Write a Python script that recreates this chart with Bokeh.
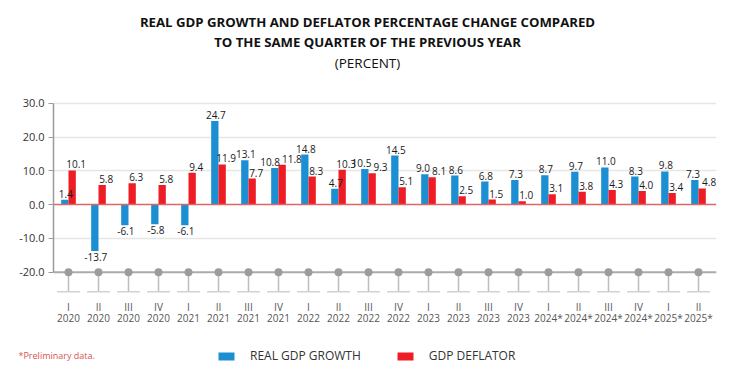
import numpy as np
from bokeh.plotting import figure
from bokeh.layouts import column, row
from bokeh.models import (Range1d, FixedTicker, NumeralTickFormatter, Label, LabelSet,
                          ColumnDataSource, Legend, LegendItem)
from bokeh.core.properties import value
from bokeh.embed import file_html
from bokeh.resources import INLINE

# ---------------- data ----------------
quarters = ["I", "II", "III", "IV", "I", "II", "III", "IV", "I", "II", "III", "IV",
            "I", "II", "III", "IV", "I", "II", "III", "IV", "I", "II"]
years = ["2020", "2020", "2020", "2020", "2021", "2021", "2021", "2021",
         "2022", "2022", "2022", "2022", "2023", "2023", "2023", "2023",
         "2024*", "2024*", "2024*", "2024*", "2025*", "2025*"]
real_gdp_growth = [1.4, -13.7, -6.1, -5.8, -6.1, 24.7, 13.1, 10.8, 14.8, 4.7, 10.5, 14.5,
                   9.0, 8.6, 6.8, 7.3, 8.7, 9.7, 11.0, 8.3, 9.8, 7.3]
gdp_deflator = [10.1, 5.8, 6.3, 5.8, 9.4, 11.9, 7.7, 11.8, 8.3, 10.3, 9.3, 5.1,
                8.1, 2.5, 1.5, 1.0, 3.1, 3.8, 4.3, 4.0, 3.4, 4.8]
y_ticks = [-20, -10, 0, 10, 20, 30]
series_names = ["REAL GDP GROWTH", "GDP DEFLATOR"]
title_lines = ["REAL GDP GROWTH AND DEFLATOR PERCENTAGE CHANGE COMPARED",
               "TO THE SAME QUARTER OF THE PREVIOUS YEAR",
               "(PERCENT)"]
footnote = "*Preliminary data."

# ---------------- style ----------------
FONT = "Open Sans"
BLUE = "#1b8fd2"
RED = "#ee1d25"
BAR_W = 0.244
OFF = 0.122
PX_PER_UNIT = 3.38
W = 734
FRAME_L, FRAME_R = 53, 18
FRAME_H = 293
MAIN_H = 338
FOOT_H = 372 - MAIN_H

n = len(quarters)
idx = np.arange(n)
floor = min(y_ticks)
top = max(y_ticks)
y_lo = floor - 6.3
y_hi = y_lo + FRAME_H / PX_PER_UNIT
x_lo, x_hi = -0.5, n - 0.4
PX_PER_X = (W - FRAME_L - FRAME_R) / (x_hi - x_lo)

p = figure(width=W, height=MAIN_H, output_backend="svg", toolbar_location=None,
           x_range=Range1d(x_lo, x_hi), y_range=Range1d(y_lo, y_hi),
           min_border_left=FRAME_L, min_border_right=FRAME_R, min_border_top=0,
           min_border_bottom=MAIN_H - FRAME_H)
p.outline_line_color = None
p.background_fill_color = "white"
p.border_fill_color = "white"
p.xgrid.visible = False
p.ygrid.ticker = FixedTicker(ticks=[t for t in y_ticks if t not in (0, floor)])
p.ygrid.grid_line_color = "#e6e6e6"
p.ygrid.grid_line_width = 1.5

# floor decoration (axis baseline with dots and stems)
p.segment(x0=[x_lo], y0=[floor], x1=[x_hi], y1=[floor],
          line_color="#ababab", line_width=2)
stem_end = floor - 5.8
p.segment(x0=idx, y0=[floor] * n, x1=idx, y1=[stem_end] * n,
          line_color="#bdbdbd", line_width=1.5)
p.segment(x0=idx - 0.38, y0=[stem_end] * n, x1=idx + 0.38, y1=[stem_end] * n,
          line_color="#d2d2d2", line_width=1.5)
p.scatter(x=idx, y=[floor] * n, size=8, fill_color="#9c9c9c", line_color=None)

src = ColumnDataSource(dict(xb=idx - OFF, xr=idx + OFF,
                            gdp=real_gdp_growth, defl=gdp_deflator))
p.vbar(x="xb", top="gdp", bottom=0, width=BAR_W, source=src,
       fill_color=BLUE, line_color=None)
p.vbar(x="xr", top="defl", bottom=0, width=BAR_W, source=src,
       fill_color=RED, line_color=None)

p.segment(x0=[x_lo], y0=[0], x1=[x_hi], y1=[0], line_color="#e06666", line_width=1.5)


# data labels (nudged apart when the two labels of a quarter would collide)
def text_w(t):
    return 5.72 * sum(c.isdigit() for c in t) + 2.7 + (3.3 if t.startswith("-") else 0)


lx, ly, lt, neg = [], [], [], []
for i in range(n):
    vb, vr = real_gdp_growth[i], gdp_deflator[i]
    tb, tr = f"{vb:.1f}", f"{vr:.1f}"
    db, dr = 1.0, 4.0
    if abs(vb - vr) < 3.5 and (vb >= 0) == (vr >= 0):
        sep = 2 * OFF * PX_PER_X + (dr - db)
        need = (text_w(tb) + text_w(tr)) / 2 + 2
        if need > sep:
            extra = need - sep
            db -= extra / 2
            dr += extra / 2
    for xv, v, t, d in ((i - OFF, vb, tb, db), (i + OFF, vr, tr, dr)):
        lx.append(xv + d / PX_PER_X)
        ly.append(v)
        lt.append(t)
        neg.append(v < 0)
lx, ly, lt, neg = map(np.array, (lx, ly, lt, neg))
pos_src = ColumnDataSource(dict(x=lx[~neg], y=ly[~neg], t=lt[~neg]))
neg_src = ColumnDataSource(dict(x=lx[neg], y=ly[neg], t=lt[neg]))
p.add_layout(LabelSet(x="x", y="y", text="t", source=pos_src, y_offset=2,
                      text_align="center", text_baseline="bottom",
                      text_font=value(FONT), text_font_size=value("10px"),
                      text_color="#1a1a1a"))
p.add_layout(LabelSet(x="x", y="y", text="t", source=neg_src, y_offset=-2,
                      text_align="center", text_baseline="top",
                      text_font=value(FONT), text_font_size=value("10px"),
                      text_color="#1a1a1a"))

# axes
p.xaxis.ticker = FixedTicker(ticks=[int(i) for i in idx])
p.xaxis.major_label_overrides = {int(i): f"{quarters[i]}\n{years[i]}" for i in idx}
p.xaxis.axis_line_color = None
p.xaxis.major_tick_line_color = None
p.xaxis.minor_tick_line_color = None
p.xaxis.major_label_text_font = FONT
p.xaxis.major_label_text_font_size = "10px"
p.xaxis.major_label_text_color = "#555555"
p.xaxis.major_label_text_line_height = 0.85
p.xaxis.major_label_standoff = 0

p.yaxis.ticker = FixedTicker(ticks=y_ticks)
p.yaxis.formatter = NumeralTickFormatter(format="0.0")
p.yaxis.bounds = (floor, top)
p.yaxis.axis_line_color = "#9a9a9a"
p.yaxis.axis_line_width = 1.5
p.yaxis.major_tick_line_color = "#9a9a9a"
p.yaxis.major_tick_out = 5
p.yaxis.major_tick_in = 0
p.yaxis.minor_tick_line_color = None
p.yaxis.major_label_text_font = FONT
p.yaxis.major_label_text_font_size = "11px"
p.yaxis.major_label_text_color = "#333333"
p.yaxis.major_label_standoff = 4

# titles (inside the frame's empty upper band)
for text, yy, bold, size in ((title_lines[0], FRAME_H - 21, True, "13.2px"),
                             (title_lines[1], FRAME_H - 41.5, True, "13.2px"),
                             (title_lines[2], FRAME_H - 62.5, False, "13.5px")):
    p.add_layout(Label(x=314, y=yy, x_units="screen", y_units="screen", text=text,
                       text_align="center", text_baseline="middle", text_font=FONT,
                       text_font_style="bold" if bold else "normal",
                       text_font_size=size, text_color="#111111"))

# ---------------- footer: legend + footnote ----------------
f = figure(width=W, height=FOOT_H, output_backend="svg", toolbar_location=None,
           x_range=Range1d(0, 1), y_range=Range1d(0, 1),
           x_axis_location=None, y_axis_location=None,
           min_border_left=0, min_border_right=0, min_border_top=0, min_border_bottom=0)
f.outline_line_color = None
f.grid.visible = False
f.background_fill_color = "white"
f.border_fill_color = "white"
# zero-size proxies: they only lend their colours to the legend swatches
proxy = ColumnDataSource(dict(x=[0], t=[0]))
lb = f.vbar(x="x", top="t", bottom="t", width=0, source=proxy,
            fill_color=BLUE, line_color=None)
lr = f.vbar(x="x", top="t", bottom="t", width=0, source=proxy,
            fill_color=RED, line_color=None)
legend = Legend(items=[LegendItem(label=series_names[0], renderers=[lb]),
                       LegendItem(label=series_names[1], renderers=[lr])],
                orientation="horizontal", location=(216, 8),
                glyph_width=20, glyph_height=10, label_standoff=14, spacing=34,
                padding=0, margin=0, border_line_color=None, background_fill_alpha=0,
                label_text_font=FONT, label_text_font_size="12px",
                label_text_color="#333333", label_height=10)
f.add_layout(legend, "center")
f.add_layout(Label(x=18, y=FOOT_H - 17, x_units="screen", y_units="screen", text=footnote,
                   text_align="left", text_baseline="middle", text_font=FONT,
                   text_font_size="9px", text_color="#d9534f"))

layout = column(p, row(f), spacing=0)
open("out.html", "w").write(file_html(layout, INLINE))
